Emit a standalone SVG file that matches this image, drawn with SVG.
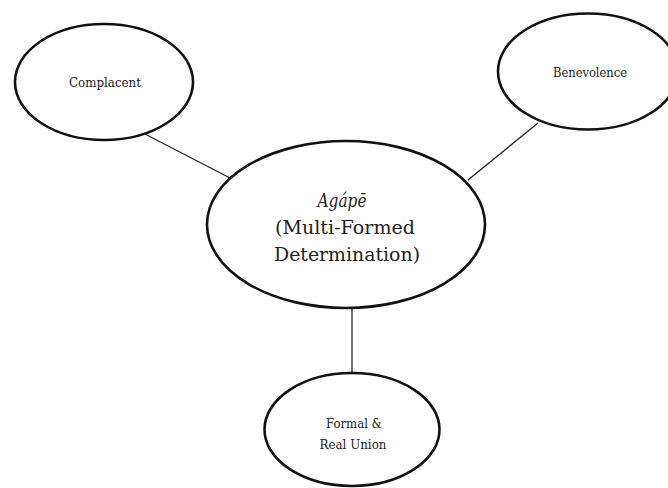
<svg xmlns="http://www.w3.org/2000/svg" width="668" height="488" viewBox="0 0 668 488">
  <style>
    .node { fill: #ffffff; stroke: #111111; stroke-width: 2.6; }
    .link { stroke: #222222; stroke-width: 1.3; fill: none; }
    text { font-family: "DejaVu Serif", "Liberation Serif", serif; fill: #222222; text-anchor: middle; }
    .small { font-size: 12px; }
    .big { font-size: 18px; }
  </style>
  <rect width="668" height="488" fill="#ffffff"/>
  <g id="connectors">
    <line class="link" x1="143" y1="133" x2="230" y2="178"/>
    <line class="link" x1="538" y1="123" x2="468" y2="180"/>
    <line class="link" x1="352" y1="308" x2="352" y2="373"/>
  </g>
  <g id="complacent">
    <ellipse class="node" cx="104" cy="82" rx="89" ry="58"/>
    <text class="small" x="105" y="87" textLength="72" lengthAdjust="spacingAndGlyphs">Complacent</text>
  </g>
  <g id="benevolence">
    <ellipse class="node" cx="588" cy="71.5" rx="90" ry="58"/>
    <text class="small" x="590" y="77" textLength="74" lengthAdjust="spacingAndGlyphs">Benevolence</text>
  </g>
  <g id="agape">
    <ellipse class="node" cx="346" cy="224.5" rx="139" ry="83.5"/>
    <text class="big" x="342" y="207" font-style="italic" textLength="49" lengthAdjust="spacingAndGlyphs">Agápē</text>
    <text class="big" x="345" y="234" textLength="140" lengthAdjust="spacingAndGlyphs">(Multi-Formed</text>
    <text class="big" x="347" y="261" textLength="146" lengthAdjust="spacingAndGlyphs">Determination)</text>
  </g>
  <g id="union">
    <ellipse class="node" cx="352" cy="429.5" rx="87.5" ry="56.5"/>
    <text class="small" x="354" y="428" textLength="56" lengthAdjust="spacingAndGlyphs">Formal &amp;</text>
    <text class="small" x="353" y="449" textLength="67" lengthAdjust="spacingAndGlyphs">Real Union</text>
  </g>
</svg>
